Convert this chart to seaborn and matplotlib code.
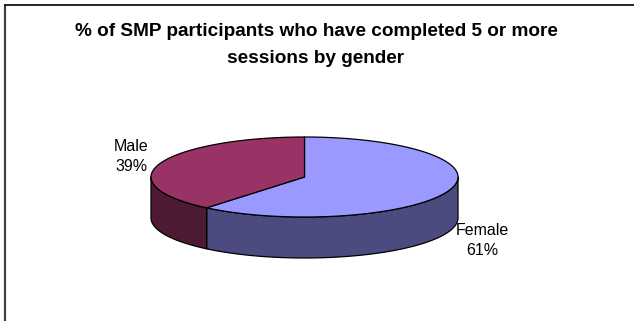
import numpy as np
import matplotlib
matplotlib.use("Agg")
import matplotlib.pyplot as plt
from matplotlib.patches import Polygon
import seaborn as sns

# Data
categories = ["Female", "Male"]
shares = [61, 39]
top_colors = ["#9999FF", "#993366"]
side_colors = ["#4B4B80", "#4D1A33"]
title = "% of SMP participants who have completed 5 or more\nsessions by gender"

sns.set_theme(style="white")
plt.rcParams["font.family"] = ["Liberation Sans", "DejaVu Sans"]

W, H = 634, 321
fig = plt.figure(figsize=(W / 100, H / 100), dpi=100)
ax = fig.add_axes([0, 0, 1, 1])
ax.set_xlim(0, W)
ax.set_ylim(H, 0)
ax.axis("off")

# 3D pie geometry (pixel space, y downward)
cx, cy = 304.5, 177.0
a, b = 153.5, 40.0
depth = 41.0


def ell(theta_cw_deg, dz=0.0):
    """Point on the pie rim; angle measured clockwise from 12 o'clock."""
    phi = np.deg2rad(90.0 - np.asarray(theta_cw_deg))
    return cx + a * np.cos(phi), cy - b * np.sin(phi) + dz


total = float(sum(shares))
bounds = np.concatenate([[0.0], np.cumsum(shares) / total * 360.0])

# side walls (front half: 90..270 degrees clockwise)
for i in range(len(shares)):
    t0, t1 = max(bounds[i], 90.0), min(bounds[i + 1], 270.0)
    if t1 <= t0:
        continue
    t = np.linspace(t0, t1, 200)
    xt, yt = ell(t)
    xb, yb = ell(t[::-1], depth)
    pts = np.column_stack([np.concatenate([xt, xb]), np.concatenate([yt, yb])])
    ax.add_patch(Polygon(pts, closed=True, facecolor=side_colors[i],
                         edgecolor="black", linewidth=0.9, joinstyle="round"))

# top faces
for i in range(len(shares)):
    t = np.linspace(bounds[i], bounds[i + 1], 300)
    xt, yt = ell(t)
    pts = np.column_stack([np.concatenate([[cx], xt]), np.concatenate([[cy], yt])])
    ax.add_patch(Polygon(pts, closed=True, facecolor=top_colors[i],
                         edgecolor="black", linewidth=0.9, joinstyle="round"))

# data labels outside the rim
for i, (cat, v) in enumerate(zip(categories, shares)):
    mid = (bounds[i] + bounds[i + 1]) / 2.0
    phi = np.deg2rad(90.0 - mid)
    lx = cx + 1.2 * a * np.cos(phi)
    ly = cy - 1.2 * b * np.sin(phi)
    if np.sin(phi) < 0:
        ly += depth + 6
        lx += 5
    else:
        ly -= 4
    ax.text(lx, ly, f"{cat}\n{v}%", ha="center", va="center", fontsize=11.5,
            color="black", linespacing=1.38)

# title
ax.text(316, 45, title, ha="center", va="center", fontsize=13.7,
        fontweight="bold", color="black", linespacing=1.72)

# chart frame edges
ax.plot([5, 5], [5, H], color="#404040", linewidth=1.6, solid_capstyle="butt")
ax.plot([4, W], [5, 5], color="black", linewidth=1.2, solid_capstyle="butt")

fig.savefig("out.png", dpi=100, facecolor="white")
